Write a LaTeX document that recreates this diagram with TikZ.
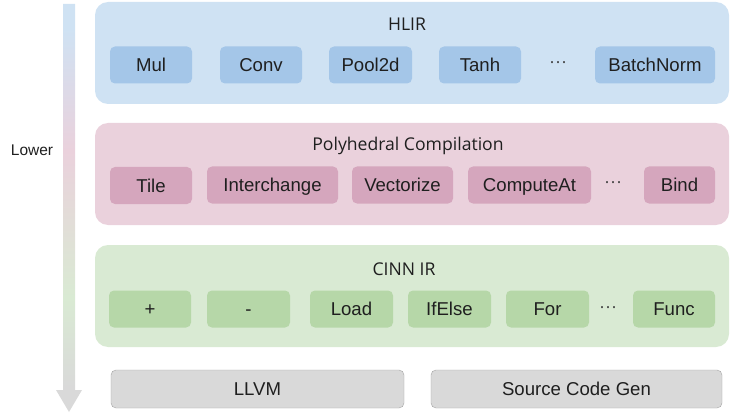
\documentclass[tikz,border=0pt]{standalone}
\usepackage{fontspec}
\setmainfont{Liberation Sans}
\newfontfamily\titlefont{Open Sans}
\usepackage{xcolor}
\usepackage{tikz}
\usetikzlibrary{shapes,arrows,positioning,fit,backgrounds}

\definecolor{hlirbg}{HTML}{CFE2F3}
\definecolor{hlirop}{HTML}{A4C6E8}
\definecolor{polybg}{HTML}{EAD1DC}
\definecolor{polyop}{HTML}{D5A6BD}
\definecolor{cinnbg}{HTML}{D9EAD3}
\definecolor{cinnop}{HTML}{B6D7A8}
\definecolor{genbg}{HTML}{D9D9D9}
\definecolor{genline}{HTML}{A3A3A3}

\pgfdeclareverticalshading{lowershade}{100bp}{color(0bp)=(genbg); color(28bp)=(genbg); color(39bp)=(cinnbg); color(57bp)=(polybg); color(72bp)=(hlirbg); color(100bp)=(hlirbg)}

\begin{document}
\begin{tikzpicture}[
    x=1pt, y=-1pt,
    layer/.style={rectangle, rounded corners=13pt, minimum width=634pt, minimum height=102pt, inner sep=0pt},
    layertitle/.style={anchor=base, font=\titlefont\fontsize{17.6}{20}\selectfont, text=black!88},
    opbox/.style={rectangle, rounded corners=5pt, minimum height=37pt, inner sep=0pt, text height=13.2pt, text depth=0pt, font=\fontsize{18.6}{20}\selectfont, text=black!88},
    backend/.style={rectangle, draw=genline, fill=genbg, rounded corners=5pt, minimum height=38pt, inner sep=0pt, text height=13.2pt, text depth=0pt, font=\fontsize{18.6}{20}\selectfont, text=black!88},
    ellip/.style={anchor=base, font=\fontsize{18}{20}\selectfont, text=black!75}
]
    \useasboundingbox (0,0) rectangle (731,417);

    % Lowering arrow
    \shade[shading=lowershade] (63,4) -- (75,4) -- (75,390) -- (82,390) -- (69,412) -- (56,390) -- (63,390) -- cycle;
    \node[font=\fontsize{15.5}{18}\selectfont, text=black!88] (lower) at (32,150) {Lower};

    % HLIR layer
    \node[layer, fill=hlirbg] (hlir) at (412,53) {};
    \node[layertitle] (hlirtitle) at (407,31) {HLIR};
    \node[opbox, fill=hlirop, minimum width=82pt] (mul) at (151,65) {Mul};
    \node[opbox, fill=hlirop, minimum width=82pt] (conv) at (261,65) {Conv};
    \node[opbox, fill=hlirop, minimum width=83pt] (pool) at (370.5,65) {Pool2d};
    \node[opbox, fill=hlirop, minimum width=82pt] (tanh) at (480,65) {Tanh};
    \node[ellip] (hlirmore) at (558,68) {···};
    \node[opbox, fill=hlirop, minimum width=120pt] (bn) at (655,65) {BatchNorm};

    % Polyhedral layer
    \node[layer, fill=polybg] (poly) at (412,174) {};
    \node[layertitle] (polytitle) at (408,150) {Polyhedral Compilation};
    \node[opbox, fill=polyop, minimum width=82pt] (tile) at (151,185.5) {Tile};
    \node[opbox, fill=polyop, minimum width=131pt] (inter) at (272.5,185) {Interchange};
    \node[opbox, fill=polyop, minimum width=101pt] (vec) at (402.5,185) {Vectorize};
    \node[opbox, fill=polyop, minimum width=123pt] (compat) at (529.5,185) {ComputeAt};
    \node[ellip] (polymore) at (613,187) {···};
    \node[opbox, fill=polyop, minimum width=71pt] (bind) at (679.5,185) {Bind};

    % CINN IR layer
    \node[layer, fill=cinnbg] (cinn) at (412,296) {};
    \node[layertitle] (cinntitle) at (404,275) {CINN IR};
    \node[opbox, fill=cinnop, minimum width=82pt] (plus) at (150,309) {+};
    \node[opbox, fill=cinnop, minimum width=83pt] (minus) at (248.5,309) {-};
    \node[opbox, fill=cinnop, minimum width=83pt] (load) at (351.5,309) {Load};
    \node[opbox, fill=cinnop, minimum width=83pt] (ifelse) at (449.5,309) {IfElse};
    \node[opbox, fill=cinnop, minimum width=83pt] (for) at (547.5,309) {For};
    \node[ellip] (cinnmore) at (608,312) {···};
    \node[opbox, fill=cinnop, minimum width=82pt] (func) at (674,309) {Func};

    % Backends
    \node[backend, minimum width=293pt] (llvm) at (257.5,389) {LLVM};
    \node[backend, minimum width=291pt] (srcgen) at (576.5,389) {Source Code Gen};

\end{tikzpicture}
\end{document}
